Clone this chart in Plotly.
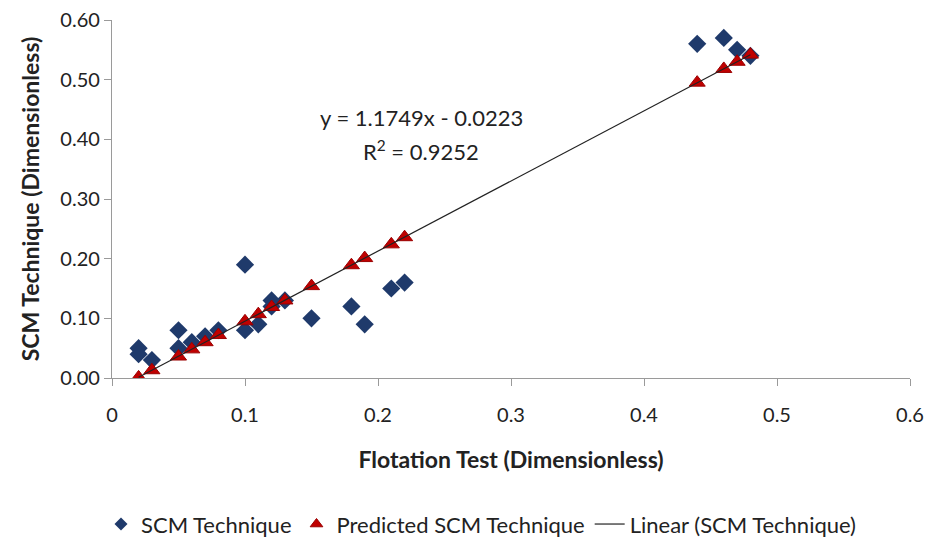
import plotly.graph_objects as go

# Flotation test results (x) and SCM technique measurements (y)
flotation = [0.02, 0.02, 0.03, 0.05, 0.05, 0.06, 0.07, 0.08, 0.10, 0.10, 0.11,
             0.12, 0.12, 0.13, 0.15, 0.18, 0.19, 0.21, 0.22, 0.44, 0.46, 0.47, 0.48]
scm = [0.05, 0.04, 0.03, 0.08, 0.05, 0.06, 0.07, 0.08, 0.19, 0.08, 0.09,
       0.13, 0.12, 0.13, 0.10, 0.12, 0.09, 0.15, 0.16, 0.56, 0.57, 0.55, 0.54]

# Predicted SCM values at each flotation test value
pred_x = [0.02, 0.03, 0.05, 0.06, 0.07, 0.08, 0.10, 0.11, 0.12, 0.13, 0.15,
          0.18, 0.19, 0.21, 0.22, 0.44, 0.46, 0.47, 0.48]
pred_y = [0.001, 0.013, 0.036, 0.048, 0.060, 0.072, 0.095, 0.107, 0.119, 0.130, 0.154,
          0.189, 0.201, 0.224, 0.236, 0.495, 0.518, 0.530, 0.542]

# Linear trend coefficients
slope = 1.1749
intercept = -0.0223
r_squared = 0.9252

x_ticks = [0, 0.1, 0.2, 0.3, 0.4, 0.5, 0.6]
x_tick_labels = ["0", "0.1", "0.2", "0.3", "0.4", "0.5", "0.6"]
y_ticks = [0.0, 0.1, 0.2, 0.3, 0.4, 0.5, 0.6]
y_tick_labels = ["0.00", "0.10", "0.20", "0.30", "0.40", "0.50", "0.60"]

FONT = "Lato, 'Open Sans', sans-serif"
TEXT = "#222222"
BLUE = "#1F3A6B"
RED = "#C00000"
RED_EDGE = "#9A0000"
LINE = "#222222"
AXIS = "#9a9a9a"

fig = go.Figure()

diamond = dict(symbol="diamond", color=BLUE, line=dict(width=0))
triangle = dict(symbol="triangle-up", color=RED, line=dict(width=1, color=RED_EDGE))

fig.add_trace(go.Scatter(
    x=flotation, y=scm, mode="markers", name="SCM Technique",
    marker=dict(size=14, **diamond), showlegend=False,
))
fig.add_trace(go.Scatter(
    x=pred_x, y=pred_y, mode="markers", name="Predicted SCM Technique",
    marker=dict(size=14, **triangle), showlegend=False,
))

trend_x = [min(flotation), max(flotation)]
trend_y = [slope * v + intercept for v in trend_x]
fig.add_trace(go.Scatter(
    x=trend_x, y=trend_y, mode="lines", name="Linear (SCM Technique)",
    line=dict(color=LINE, width=1.2), showlegend=False,
))

# Legend entries with smaller symbols
fig.add_trace(go.Scatter(x=[None], y=[None], mode="markers", name="SCM Technique",
                         marker=dict(size=10, **diamond)))
fig.add_trace(go.Scatter(x=[None], y=[None], mode="markers", name="Predicted SCM Technique",
                         marker=dict(size=11, **triangle)))
fig.add_trace(go.Scatter(x=[None], y=[None], mode="lines", name="Linear (SCM Technique)",
                         line=dict(color=LINE, width=1.2)))

# Trend equation and goodness of fit
fig.add_annotation(
    x=0.233, y=0.436, xref="x", yref="y", showarrow=False,
    text=f"y = {slope}x - {abs(intercept)}",
    font=dict(family=FONT, size=22, color=TEXT),
)
fig.add_annotation(
    x=0.232, y=0.381, xref="x", yref="y", showarrow=False,
    text=f"R<sup>2</sup> = {r_squared}",
    font=dict(family=FONT, size=22, color=TEXT),
)

fig.update_layout(
    width=934, height=541,
    margin=dict(l=112, r=24, t=20, b=163, autoexpand=False),
    paper_bgcolor="white", plot_bgcolor="white",
    font=dict(family=FONT, size=20, color=TEXT),
    showlegend=True,
    legend=dict(orientation="h", x=0.515, xanchor="center", xref="container",
                y=0.031, yanchor="middle", yref="container",
                font=dict(family=FONT, size=22, color=TEXT),
                tracegroupgap=0, itemwidth=30, bgcolor="rgba(0,0,0,0)"),
    xaxis=dict(
        range=[0, 0.6], tickvals=x_ticks, ticktext=x_tick_labels,
        showgrid=False, zeroline=False, showline=True, linecolor=AXIS, linewidth=1.2,
        ticks="outside", ticklen=7, tickcolor=AXIS, ticklabelstandoff=12,
        tickfont=dict(family=FONT, size=20),
        title=dict(text="<b>Flotation Test (Dimensionless)</b>", standoff=26,
                   font=dict(family=FONT, size=23)),
    ),
    yaxis=dict(
        range=[0, 0.6], tickvals=y_ticks, ticktext=y_tick_labels,
        showgrid=False, zeroline=False, showline=True, linecolor=AXIS, linewidth=1.2,
        ticks="outside", ticklen=7, tickcolor=AXIS,
        tickfont=dict(family=FONT, size=20),
        title=dict(text="<b>SCM Technique (Dimensionless)</b>", standoff=14,
                   font=dict(family=FONT, size=23)),
    ),
)

fig.write_html("out.html")
